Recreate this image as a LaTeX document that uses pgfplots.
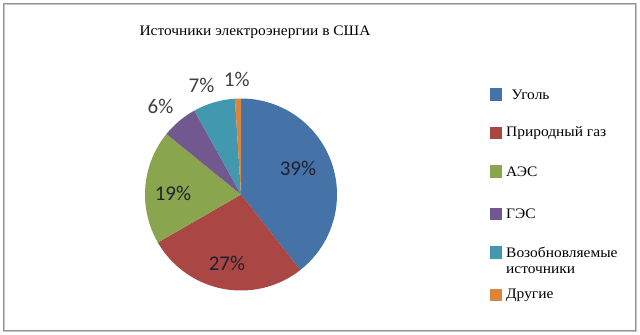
\documentclass[border=0pt]{standalone}
\usepackage{pgfplots}
\pgfplotsset{compat=1.18}
\usepackage{fontspec}
\setmainfont{Liberation Serif}[FakeStretch=1.065]
\newfontfamily\labfont{Carlito}
\definecolor{pA}{HTML}{4572A7}
\definecolor{pB}{HTML}{AA4643}
\definecolor{pC}{HTML}{89A54E}
\definecolor{pD}{HTML}{71588F}
\definecolor{pE}{HTML}{4198AF}
\definecolor{pF}{HTML}{DB843D}
\definecolor{inlab}{HTML}{1E2230}
\definecolor{outlab}{HTML}{404040}
\begin{document}
\begin{tikzpicture}
\useasboundingbox (0,0) rectangle (640bp,335bp);
\fill[white] (0,0) rectangle (640bp,335bp);
\begin{axis}[at={(0,0)},anchor=south west,width=640bp,height=335bp,scale only axis,
  xmin=0,xmax=640,ymin=0,ymax=335,y dir=reverse,hide axis,clip=false]
% frame
\draw[gray!45,line width=1.6bp] (axis cs:4,4) rectangle (axis cs:636,331);
\draw[gray!85,line width=0.8bp] (axis cs:3,3) rectangle (axis cs:635,330);
% title
\node[font=\fontsize{14.5bp}{17bp}\selectfont,text=black] at (axis cs:255,32.5) {Источники электроэнергии в США};
% pie: value / colour / label x / label y / label colour
\xdef\curang{90}
\foreach \v/\c/\lx/\ly/\lc in {39/pA/298/168/inlab,27/pB/227/263.5/inlab,19/pC/173/193/inlab,6/pD/160.5/106/outlab,7/pE/201.5/85.5/outlab,1/pF/236.7/79.7/outlab}{
  \pgfmathsetmacro{\endang}{\curang-360*\v/99}
  \edef\temp{\noexpand\fill[\c] (axis cs:241,194.5) -- ++(\curang:96bp) arc[start angle=\curang, end angle=\endang, radius=96bp] -- cycle;
    \noexpand\node[font=\noexpand\labfont\noexpand\fontsize{21bp}{23bp}\noexpand\selectfont,text=\lc] at (axis cs:\lx,\ly) {\v\noexpand\%};}
  \temp
  \xdef\curang{\endang}
}
% legend
\foreach \c/\y in {pA/94.5,pB/133,pC/171.5,pD/214,pE/252.5,pF/295}{
  \edef\temp{\noexpand\fill[\c] (axis cs:489.5,\y-6.2) rectangle (axis cs:501.8,\y+6.2);}
  \temp
}
\begin{scope}[every node/.style={anchor=west,font=\fontsize{14.5bp}{17bp}\selectfont,inner sep=0pt}]
\node at (axis cs:511.5,94.5) {Уголь};
\node at (axis cs:506,133) {Природный газ};
\node at (axis cs:506,171.5) {АЭС};
\node at (axis cs:506,214) {ГЭС};
\node at (axis cs:506,252.5) {Возобновляемые};
\node at (axis cs:506,270.5) {источники};
\node at (axis cs:506,295) {Другие};
\end{scope}
\end{axis}
\end{tikzpicture}
\end{document}
